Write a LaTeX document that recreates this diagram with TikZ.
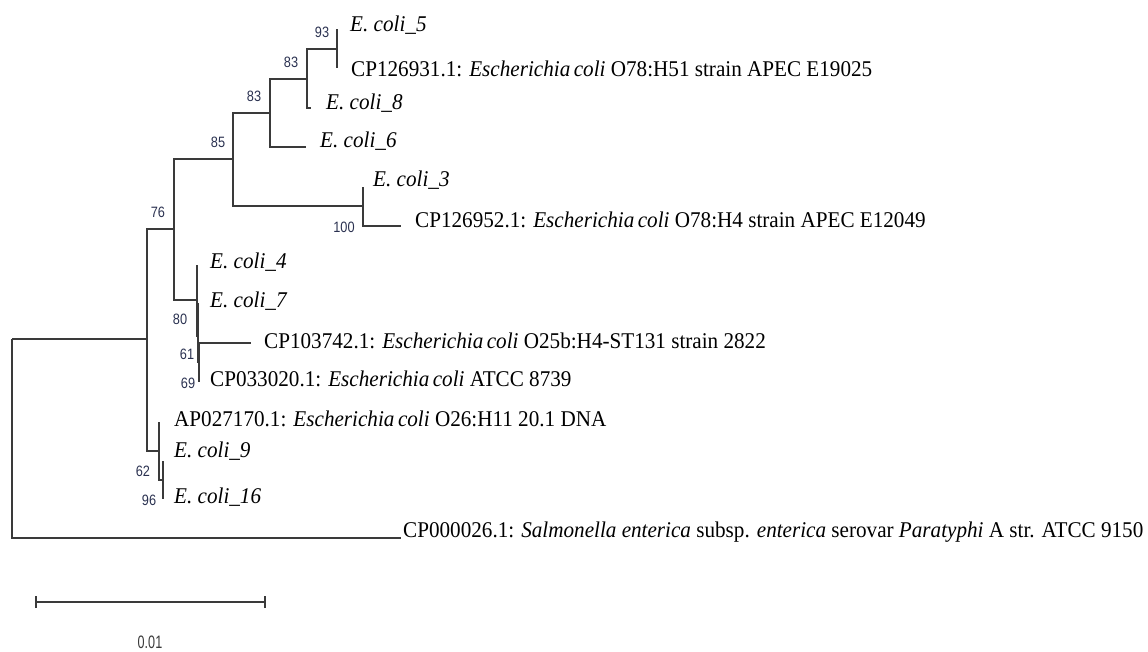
\documentclass[tikz,border=0pt]{standalone}
\usepackage{fontspec}
\setmainfont{Liberation Serif}
\newfontfamily\bootfont{Liberation Sans}
\usepackage{graphicx}
\definecolor{brgray}{HTML}{3A3A3A}
\definecolor{bootnavy}{HTML}{2A3150}
\tikzset{
  br/.style={line width=1.7pt,brgray},
  taxon/.style={anchor=base west,inner sep=0pt,font=\fontsize{22.5}{26}\selectfont},
  bs/.style={inner sep=0pt,bootnavy,font=\bootfont\fontsize{15}{17}\selectfont}
}
\newcommand{\nar}[1]{\scalebox{0.94}[1]{#1}}
\newcommand{\bsn}[1]{\scalebox{0.85}[1]{#1}}
\newcommand{\ec}[1]{\textit{E. coli\_#1}}
\newcommand{\esc}{\textit{Escherichia\,coli}}

\begin{document}
\begin{tikzpicture}[x=1pt,y=-1pt]
\useasboundingbox (0,0) rectangle (1148,652);
% internal nodes
\coordinate (root) at (12,339);
\coordinate (nG) at (147,339);
\coordinate (nF) at (174,229);
\coordinate (nD) at (233,159);
\coordinate (nC) at (270,113);
\coordinate (nB) at (307,79);
\coordinate (nA) at (337,49);
\coordinate (nE) at (363,206);
\coordinate (nH) at (197,300);
\coordinate (nK) at (198,336);
\coordinate (nL) at (199,362);
\coordinate (nI) at (159,451);
\coordinate (nJ) at (163,480);
% tips
\coordinate (t5) at (337,29);
\coordinate (t931) at (337,68);
\coordinate (t8) at (311,108);
\coordinate (t6) at (306,147);
\coordinate (t3) at (363,187);
\coordinate (t952) at (401,226);
\coordinate (t4) at (197,265);
\coordinate (t7) at (198,303);
\coordinate (t742) at (251,343);
\coordinate (t020) at (199,382);
\coordinate (t170) at (159,422);
\coordinate (t9) at (163,461);
\coordinate (t16) at (163,499);
\coordinate (tsal) at (401,538);

% branches
\foreach \p/\c in {root/nG,root/tsal,nG/nF,nG/nI,nF/nD,nF/nH,nD/nC,nD/nE,
  nC/nB,nC/t6,nB/nA,nB/t8,nA/t5,nA/t931,nE/t3,nE/t952,
  nH/t4,nH/nK,nK/t7,nK/nL,nL/t742,nL/t020,nI/t170,nI/nJ,nJ/t9,nJ/t16}
  \draw[br] (\p) |- (\c);

% taxa
\node[taxon] (l5) at (350,32) {\nar{\ec{5}}};
\node[taxon] (l931) at (351,77) {\nar{CP126931.1: \esc{} O78:H51 strain APEC E19025}};
\node[taxon] (l8) at (326,110) {\nar{\ec{8}}};
\node[taxon] (l6) at (320,148) {\nar{\ec{6}}};
\node[taxon] (l3) at (373,187) {\nar{\ec{3}}};
\node[taxon] (l952) at (415,228) {\nar{CP126952.1: \esc{} O78:H4 strain APEC E12049}};
\node[taxon] (l4) at (210,269) {\nar{\ec{4}}};
\node[taxon] (l7) at (210,307) {\nar{\ec{7}}};
\node[taxon] (l742) at (264,348) {\nar{CP103742.1: \esc{} O25b:H4-ST131 strain 2822}};
\node[taxon] (l020) at (210,386) {\nar{CP033020.1: \esc{} ATCC 8739}};
\node[taxon] (l170) at (174,426) {\nar{AP027170.1: \esc{} O26:H11 20.1 DNA}};
\node[taxon] (l9) at (174,457) {\nar{\ec{9}}};
\node[taxon] (l16) at (174,503) {\nar{\ec{16}}};
\node[taxon] (lsal) at (403,537) {\nar{CP000026.1: \textit{Salmonella enterica} subsp. \textit{enterica} serovar \textit{Paratyphi} A str. ATCC 9150}};

% bootstrap values
\node[bs] (b93) at (322,32) {\bsn{93}};
\node[bs] (b83a) at (291,62) {\bsn{83}};
\node[bs] (b83b) at (254,96) {\bsn{83}};
\node[bs] (b85) at (218,142) {\bsn{85}};
\node[bs] (b76) at (158,212) {\bsn{76}};
\node[bs] (b100) at (344,227) {\bsn{100}};
\node[bs] (b80) at (180,319) {\bsn{80}};
\node[bs] (b61) at (187,354) {\bsn{61}};
\node[bs] (b69) at (188,383) {\bsn{69}};
\node[bs] (b62) at (143,471) {\bsn{62}};
\node[bs] (b96) at (149,500) {\bsn{96}};

% scale bar
\coordinate (sbL) at (36,602);
\coordinate (sbR) at (265,602);
\draw[br] (sbL) -- (sbR);
\draw[br] ([yshift=-6pt]sbL) -- ([yshift=6pt]sbL);
\draw[br] ([yshift=-6pt]sbR) -- ([yshift=6pt]sbR);
\node[bs,brgray,font=\bootfont\fontsize{18}{20}\selectfont] (sbtxt) at (150,642) {\scalebox{0.7}[1]{0.01}};
\end{tikzpicture}
\end{document}
